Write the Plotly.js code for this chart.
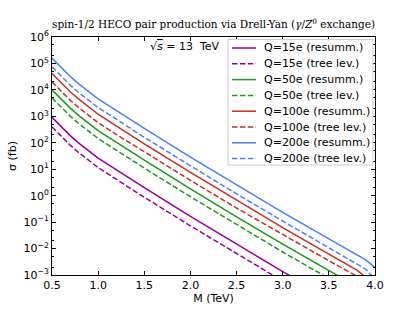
<!DOCTYPE html>
<html><head><meta charset="utf-8">
<script src="https://cdn.plot.ly/plotly-3.0.1.min.js"></script>
<style>html,body{margin:0;padding:0;background:#fff}#c{width:415px;height:311px}</style>
</head><body><div id="c"></div>
<script>
const M = [0.5,0.6,0.7,0.8,0.9,1.0,1.25,1.5,2.0,2.5,3.0,3.5,3.8,3.9,4.0];
const q15_res  = [912,389,182,91.2,47.9,26.3,7.24,2.0,0.166,0.0145,1.35e-3,1.35e-4,3.4e-5,2.1e-5,1.1e-5];
const q15_tree = [398,170,79.4,39.8,20.9,11.5,3.16,0.871,0.0724,6.31e-3,5.89e-4,5.89e-5,1.5e-5,9e-6,5e-6];
const q50_res  = [1.0e4,4.27e3,2.0e3,1.0e3,525,288,79.4,21.9,1.82,0.158,0.0148,1.48e-3,3.72e-4,2.34e-4,1.2e-4];
const q50_tree = [5.01e3,2.14e3,1.0e3,501,263,145,39.8,11.0,0.912,0.0794,7.41e-3,7.41e-4,1.86e-4,1.17e-4,6e-5];
const q100_res = [4.17e4,1.78e4,8.32e3,4.17e3,2.19e3,1.20e3,331,91.2,7.59,0.661,0.0617,6.17e-3,1.55e-3,8.32e-4,2.5e-4];
const q100_tree= [2.0e4,8.51e3,3.98e3,2.0e3,1.05e3,575,158,44.7,3.80,0.339,0.0331,3.47e-3,9.12e-4,5.0e-4,2.0e-4];
const q200_res = [1.585e5,6.76e4,3.16e4,1.585e4,8.32e3,4.57e3,1.26e3,347,28.8,2.51,0.234,0.0234,5.89e-3,3.72e-3,1.91e-3];
const q200_tree= [7.41e4,3.16e4,1.48e4,7.41e3,3.89e3,2.14e3,589,162,13.5,1.17,0.110,0.011,2.75e-3,1.66e-3,7.08e-4];
const xticks = [0.5,1.0,1.5,2.0,2.5,3.0,3.5,4.0];
const xticktext = ['0.5','1.0','1.5','2.0','2.5','3.0','3.5','4.0'];
const yticks = [1e-3,1e-2,1e-1,1,10,100,1e3,1e4,1e5,1e6];
const yticktext = ['10<sup>−3</sup>','10<sup>−2</sup>','10<sup>−1</sup>','10<sup>0</sup>','10<sup>1</sup>','10<sup>2</sup>','10<sup>3</sup>','10<sup>4</sup>','10<sup>5</sup>','10<sup>6</sup>'];
const names = ['Q=15e (resumm.)','Q=15e (tree lev.)','Q=50e (resumm.)','Q=50e (tree lev.)',
               'Q=100e (resumm.)','Q=100e (tree lev.)','Q=200e (resumm.)','Q=200e (tree lev.)'];

const purple='#990099', green='#1f961f', red='#c0302c', blue='#4f7ff0';
const DASH = '5.5px,2.4px';
const series = [
  [q15_res, purple, 'solid'], [q15_tree, purple, DASH],
  [q50_res, green, 'solid'],  [q50_tree, green, DASH],
  [q100_res, red, 'solid'],   [q100_tree, red, DASH],
  [q200_res, blue, 'solid'],  [q200_tree, blue, DASH]
];
const data = series.map((s, i) => ({
  x: M, y: s[0], name: names[i], type: 'scatter', mode: 'lines', showlegend: false,
  line: {color: s[1], dash: s[2], width: 1.5}
}));

// manual legend (pixel geometry -> paper coords)
const L = 52, T = 37, W = 323, H = 238;
const px = v => (v - L) / W, py = v => (T + H - v) / H;
const shapes = [{type: 'rect', xref: 'paper', yref: 'paper', x0: px(228), x1: px(373), y0: py(165), y1: py(39.5),
  line: {color: '#cccccc', width: 1}, fillcolor: 'rgba(255,255,255,0.85)', layer: 'above'}];
const annotations = [
  {xref: 'paper', yref: 'paper', x: px(222), y: py(37.5), xanchor: 'right', yanchor: 'top',
    text: '√<span style="text-decoration:overline"><i>s</i></span> = 13  TeV', showarrow: false,
    font: {family: 'DejaVu Sans', size: 11, color: '#000'}},
  {xref: 'paper', yref: 'paper', x: 0.5, y: py(24), xanchor: 'center', yanchor: 'middle',
    text: 'spin-1/2 HECO pair production via Drell-Yan (<i>γ</i>/<i>Z</i><sup>0</sup> exchange)', showarrow: false,
    font: {family: 'DejaVu Serif', size: 10.5, color: '#000'}}
];
series.forEach((s, i) => {
  const yy = 48 + i * 15.8;
  shapes.push({type: 'line', xref: 'paper', yref: 'paper', x0: px(232), x1: px(256), y0: py(yy), y1: py(yy),
    line: {color: s[1], dash: s[2], width: 1.5}, layer: 'above'});
  annotations.push({xref: 'paper', yref: 'paper', x: px(262), y: py(yy), xanchor: 'left', yanchor: 'middle',
    text: names[i], showarrow: false, font: {family: 'DejaVu Sans', size: 11, color: '#000'}});
});

const ax = {
  showline: true, linecolor: '#000', linewidth: 1, mirror: 'ticks',
  ticks: 'inside', ticklen: 4, tickcolor: '#000', showgrid: false, zeroline: false,
  tickfont: {family: 'DejaVu Sans', size: 11, color: '#000'}
};
const layout = {
  width: 415, height: 311,
  margin: {l: L, r: 415 - L - W, t: T, b: 311 - T - H},
  paper_bgcolor: '#fff', plot_bgcolor: '#fff',
  showlegend: false,
  xaxis: Object.assign({}, ax, {range: [0.5, 4.0], tickvals: xticks, ticktext: xticktext,
    title: {text: 'M (TeV)', font: {family: 'DejaVu Sans', size: 11, color: '#000'}, standoff: 3}}),
  yaxis: Object.assign({}, ax, {type: 'log', range: [-3, 6], tickvals: yticks, ticktext: yticktext,
    title: {text: 'σ (fb)', font: {family: 'DejaVu Sans', size: 11, color: '#000'}, standoff: 4},
    minor: {ticks: 'inside', ticklen: 2, tickcolor: '#000', showgrid: false}}),
  shapes: shapes,
  annotations: annotations
};
Plotly.newPlot('c', data, layout, {displayModeBar: false, staticPlot: true});
</script></body></html>
